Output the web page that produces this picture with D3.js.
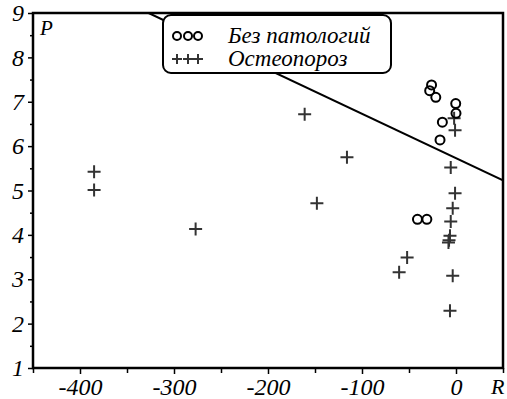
<!DOCTYPE html>
<html>
<head>
<meta charset="utf-8">
<script src="https://cdn.jsdelivr.net/npm/d3@7"></script>
</head>
<body style="margin:0">
<svg id="chart" width="507" height="399"></svg>
<script>
// group "Без патологий" (circles)
var normalR = [-26, -28, -21.5, -0.3, 0, -14.5, -17, -41, -31];
var normalP = [7.38, 7.25, 7.10, 6.96, 6.74, 6.54, 6.14, 4.35, 4.35];

// group "Остеопороз" (crosses)
var osteoR = [-385, -385, -277, -161, -116, -148, -2, -1, -5.6, -1, -3.5, -5.6, -6.4, -7.4, -8, -52, -60.5, -3.5, -6.4];
var osteoP = [5.42, 5.01, 4.13, 6.72, 5.75, 4.71, 6.63, 6.36, 5.52, 4.94, 4.60, 4.30, 3.98, 3.88, 3.83, 3.49, 3.16, 3.08, 2.29];

// separating line, two end points
var lineR = [-327, 50];
var lineP = [9, 5.23];

var xTicks = [-400, -300, -200, -100, 0];
var xMinor = [-450, -350, -250, -150, -50, 50];
var yTicks = [1, 2, 3, 4, 5, 6, 7, 8, 9];
var yMinor = [1.5, 2.5, 3.5, 4.5, 5.5, 6.5, 7.5, 8.5];

var legendNames = ["Без патологий", "Остеопороз"];

var width = 507, height = 399;
var margin = {top: 13, right: 4, bottom: 31, left: 33};

var svg = d3.select("#chart");

var x = d3.scaleLinear()
  .domain([-450, 50])
  .range([margin.left, width - margin.right]);

var y = d3.scaleLinear()
  .domain([1, 9])
  .range([height - margin.bottom, margin.top]);

var plotW = width - margin.left - margin.right;
var plotH = height - margin.top - margin.bottom;

svg.append("clipPath")
  .attr("id", "clip")
  .append("rect")
  .attr("x", margin.left)
  .attr("y", margin.top)
  .attr("width", plotW)
  .attr("height", plotH);

// separating line
svg.append("line")
  .attr("clip-path", "url(#clip)")
  .attr("x1", x(lineR[0]))
  .attr("y1", y(lineP[0]))
  .attr("x2", x(lineR[1]))
  .attr("y2", y(lineP[1]))
  .attr("stroke", "#000")
  .attr("stroke-width", 2);

function drawCross(g, cx, cy, s) {
  g.append("path")
    .attr("d", "M" + (cx - s) + "," + cy + "H" + (cx + s) + "M" + cx + "," + (cy - s) + "V" + (cy + s))
    .attr("stroke", "#333")
    .attr("stroke-width", 2)
    .attr("fill", "none");
}

function drawCircle(g, cx, cy, r) {
  g.append("circle")
    .attr("cx", cx)
    .attr("cy", cy)
    .attr("r", r)
    .attr("fill", "none")
    .attr("stroke", "#000")
    .attr("stroke-width", 2);
}

// points
var pts = svg.append("g");
osteoR.forEach(function(r, i) { drawCross(pts, x(r), y(osteoP[i]), 6.5); });
normalR.forEach(function(r, i) { drawCircle(pts, x(r), y(normalP[i]), 4.5); });

// axes
svg.append("g")
  .attr("transform", "translate(0," + y(1) + ")")
  .call(d3.axisBottom(x)
    .tickValues(xTicks)
    .tickFormat(function(d) { return String(d); })
    .tickSize(6)
    .tickSizeOuter(0)
    .tickPadding(4));

svg.append("g")
  .attr("transform", "translate(0," + y(1) + ")")
  .call(d3.axisBottom(x).tickValues(xMinor).tickFormat("").tickSize(5).tickSizeOuter(0));

svg.append("g")
  .attr("transform", "translate(" + x(-450) + ",0)")
  .call(d3.axisLeft(y)
    .tickValues(yTicks)
    .tickFormat(function(d) { return String(d); })
    .tickSize(5)
    .tickSizeOuter(0)
    .tickPadding(4));

svg.append("g")
  .attr("transform", "translate(" + x(-450) + ",0)")
  .call(d3.axisLeft(y).tickValues(yMinor).tickFormat("").tickSize(3).tickSizeOuter(0));

svg.selectAll(".domain").remove();
svg.selectAll("g").attr("font-family", "serif");
svg.selectAll(".tick line").attr("stroke", "#000").attr("stroke-width", 1.5);
svg.selectAll(".tick text")
  .attr("fill", "#000")
  .attr("font-size", 24)
  .attr("font-family", "serif")
  .attr("font-style", "italic");

// frame
svg.append("rect")
  .attr("x", margin.left)
  .attr("y", margin.top)
  .attr("width", plotW)
  .attr("height", plotH)
  .attr("fill", "none")
  .attr("stroke", "#000")
  .attr("stroke-width", 2.5);

// axis names
svg.append("text")
  .attr("x", 40)
  .attr("y", 35)
  .attr("font-size", 21)
  .attr("font-family", "serif")
  .attr("font-style", "italic")
  .text("P");

svg.append("text")
  .attr("x", 491)
  .attr("y", 394)
  .attr("font-size", 22)
  .attr("font-family", "serif")
  .attr("font-style", "italic")
  .text("R");

// legend
var legend = svg.append("g");
legend.append("rect")
  .attr("x", 163)
  .attr("y", 15)
  .attr("width", 228)
  .attr("height", 58)
  .attr("rx", 8)
  .attr("fill", "#fff")
  .attr("stroke", "#000")
  .attr("stroke-width", 2);

[177, 188, 198].forEach(function(cx) {
  drawCircle(legend, cx, 36, 4);
  drawCross(legend, cx, 59, 5);
});

legend.selectAll(".ltext")
  .data(legendNames)
  .enter()
  .append("text")
  .attr("class", "ltext")
  .attr("x", 228)
  .attr("y", function(d, i) { return 43 + i * 23; })
  .attr("font-size", 23)
  .attr("font-family", "serif")
  .attr("font-style", "italic")
  .text(function(d) { return d; });
</script>
</body>
</html>
